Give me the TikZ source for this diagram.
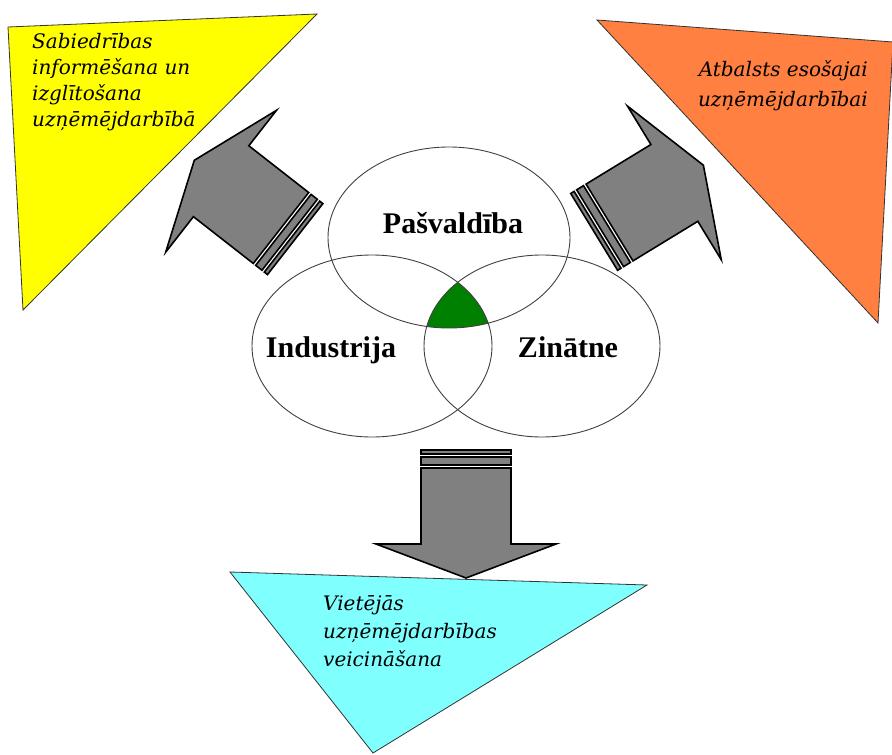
\documentclass[tikz,border=0pt]{standalone}
\usepackage{fontspec}
\setmainfont{Liberation Serif}
\newfontfamily\notefont{DejaVu Serif}
\definecolor{triyellow}{RGB}{255,255,0}
\definecolor{triorange}{RGB}{255,128,64}
\definecolor{tricyan}{RGB}{128,255,255}
\definecolor{coregreen}{RGB}{0,128,0}
\tikzset{
  tri/.style={draw=black!80, line width=0.8pt},
  ring/.style={draw=black!75, line width=0.9pt},
  arrowbody/.style={draw=black, fill=black!50, line width=1.6pt, line join=miter},
  note/.style={inner sep=0pt, font=\notefont\itshape\fontsize{20}{26}\selectfont},
  sector/.style={inner sep=0pt, font=\bfseries\fontsize{30}{32}\selectfont},
  bigarrow/.pic={
    \draw[arrowbody] (0,-45) -- (76,-45) -- (76,-90) -- (110,0) -- (76,90) -- (76,45) -- (0,45) -- cycle;
    \draw[arrowbody] (-3,-45) rectangle (-11,45);
    \draw[arrowbody] (-14,-45) rectangle (-18,45);
  }
}
\begin{document}
\begin{tikzpicture}[x=1pt, y=-1pt]
        \useasboundingbox (0,0) rectangle (892,755);
        \coordinate (Y1) at (8,27);
        \coordinate (Y2) at (317,14);
        \coordinate (Y3) at (23,310);
        \coordinate (O1) at (597,20);
        \coordinate (O2) at (893,42);
        \coordinate (O3) at (878,323);
        \coordinate (C1) at (230,572);
        \coordinate (C2) at (647,585);
        \coordinate (C3) at (373,753);
        \coordinate (P) at (449,237.5);
        \coordinate (I) at (372,346);
        \coordinate (Z) at (542,346);

        \filldraw[tri, fill=triyellow] (Y1) -- (Y2) -- (Y3) -- cycle;
        \filldraw[tri, fill=triorange] (O1) -- (O2) -- (O3) -- cycle;
        \filldraw[tri, fill=tricyan] (C1) -- (C2) -- (C3) -- cycle;

        \node[note, anchor=north west, align=left] (sab) at (32,33)
          {Sabiedrības\\informēšana un\\izglītošana\\uzņēmējdarbībā};
        \node[note, anchor=north east, align=right, font=\notefont\itshape\fontsize{20}{30}\selectfont] (atb) at (868,60)
          {Atbalsts esošajai\\uzņēmējdarbībai};
        \node[note, anchor=north west, align=left, font=\notefont\itshape\fontsize{20}{28}\selectfont] (vie) at (323,595)
          {Vietējās\\uzņēmējdarbības\\veicināšana};

        \begin{scope}
          \clip (P) ellipse [x radius=121, y radius=90.5];
          \clip (I) ellipse [x radius=120, y radius=91];
          \fill[coregreen] (Z) ellipse [x radius=118, y radius=91];
        \end{scope}
        \draw[ring] (P) ellipse [x radius=121, y radius=90.5];
        \draw[ring] (I) ellipse [x radius=120, y radius=91];
        \draw[ring] (Z) ellipse [x radius=118, y radius=91];

        \node[sector, anchor=base] (pas) at (453,233) {Pašvaldība};
        \node[sector, anchor=base] (ind) at (331,357) {Industrija};
        \node[sector, anchor=base] (zin) at (568,357) {Zinātne};

        \pic[rotate=142] at (281,228) {bigarrow};
        \pic[rotate=31.4] at (609.5,222.5) {bigarrow};
        \pic[rotate=-90] at (466,468) {bigarrow};
      \end{tikzpicture}
\end{document}
